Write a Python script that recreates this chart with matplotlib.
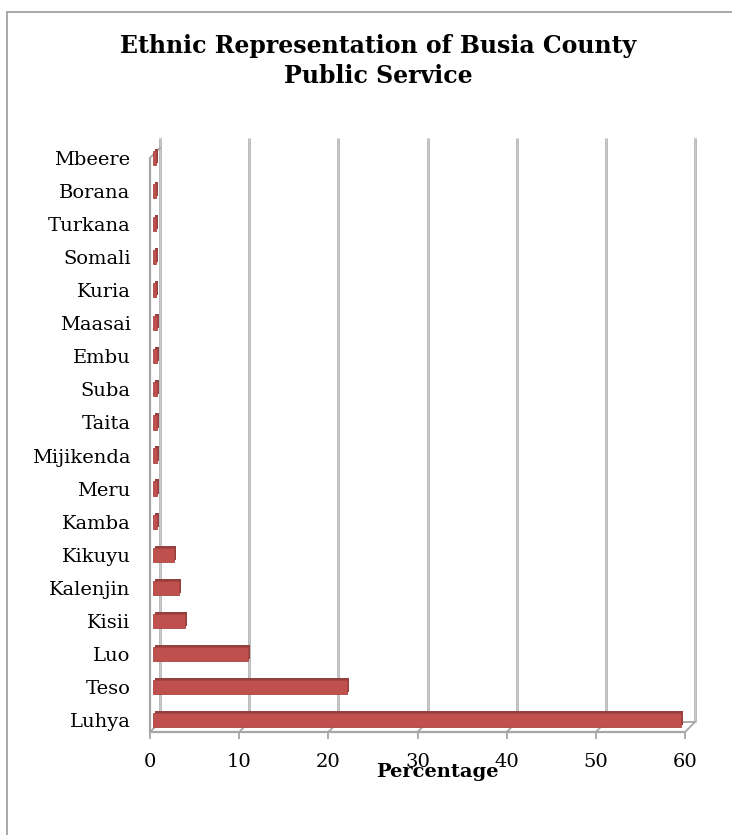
import matplotlib
matplotlib.use("Agg")
import matplotlib.pyplot as plt
from matplotlib.transforms import ScaledTranslation
from matplotlib.patches import Rectangle

categories = ["Luhya", "Teso", "Luo", "Kisii", "Kalenjin", "Kikuyu", "Kamba", "Meru",
              "Mijikenda", "Taita", "Suba", "Embu", "Maasai", "Kuria", "Somali",
              "Turkana", "Borana", "Mbeere"]
values = [59.2, 21.8, 10.6, 3.6, 2.9, 2.4, 0.5, 0.45, 0.45, 0.4, 0.4, 0.4, 0.4,
          0.35, 0.35, 0.35, 0.35, 0.35]
xticks = [0, 10, 20, 30, 40, 50, 60]
title = "Ethnic Representation of Busia County\nPublic Service"
xlabel = "Percentage"

W, H = 732, 835
fig = plt.figure(figsize=(W / 100, H / 100), dpi=100)
fig.patch.set_facecolor("white")

# outer chart frame
fig.patches.append(Rectangle((7 / W, -0.1), 1.2, 1.1 - 12 / H, transform=fig.transFigure,
                             fill=False, edgecolor="#9a9a9a", linewidth=1.2))

left, right = 150 / W, 685 / W
bottom, top = (H - 732) / H, (H - 138) / H
ax = fig.add_axes([left, bottom, right - left, top - bottom])
ax.set_xlim(0, 60)
ax.set_ylim(-0.36, 17.6)
for s in ax.spines.values():
    s.set_visible(False)

def off(dxp, dyp):
    return ax.transData + ScaledTranslation(dxp / 100, dyp / 100, fig.dpi_scale_trans)

grid_c = "#a6a6a6"
ypos = list(range(len(categories)))
floor = -0.36
ytop = 17.6
# back wall grid lines (offset for 3D look)
ax.vlines(xticks, floor, ytop - 0.3, transform=off(10, 10), colors=grid_c, lw=1.8,
          zorder=1, clip_on=False)
ax.vlines(xticks, floor, ytop - 0.3, transform=off(10, 10), colors="#d9d9d9", lw=0.5,
          zorder=1, clip_on=False)
# back floor line
ax.hlines([floor], 0, 60, transform=off(10, 10), colors=grid_c, lw=1.3, zorder=1, clip_on=False)
# front left wall and floor
ax.vlines([0], floor, ytop - 0.6, colors=grid_c, lw=1.6, zorder=1, clip_on=False)
ax.hlines([floor], 0, 60, colors=grid_c, lw=1.6, zorder=1, clip_on=False)

# diagonal floor connectors
fig.canvas.draw()
inv = ax.transData.inverted()
p0 = ax.transData.transform((0, floor))
dx, dy = inv.transform((p0[0] + 10, p0[1] + 10)) - (0, floor)
for t in xticks:
    ax.plot([t, t + dx], [floor, floor + dy], color=grid_c, lw=1.3, zorder=1, clip_on=False)
ax.plot([0, dx], [ytop - 0.6, ytop - 0.6 + dy], color=grid_c, lw=1.3, zorder=1, clip_on=False)

# bars: shadow/side then face
ax.barh(ypos, values, height=0.43, left=0, color="#94403e", transform=off(5, 2), zorder=3)
ax.barh(ypos, values, height=0.43, left=0, color="#c0504d", edgecolor="#a84442",
        linewidth=0.6, transform=off(3, 0), zorder=4)

ax.set_yticks(ypos)
ax.set_yticklabels(categories, fontsize=14, family="DejaVu Serif")
for lab in ax.get_yticklabels():
    lab.set_transform(lab.get_transform() + ScaledTranslation(0, 0.03, fig.dpi_scale_trans))
ax.tick_params(axis="y", length=0, pad=14)
ax.set_xticks(xticks)
ax.set_xticklabels([str(t) for t in xticks], fontsize=14, family="DejaVu Serif")
ax.tick_params(axis="x", length=5, color=grid_c, width=1.3, pad=10)
ax.set_xlabel(xlabel, fontsize=14, family="DejaVu Serif", fontweight="bold")
ax.xaxis.set_label_coords((437 - 150) / 535, -0.052)

fig.text(378 / W, 1 - 61 / H, title, ha="center", va="center", fontsize=17,
         family="DejaVu Serif", fontweight="bold", linespacing=1.3)

fig.savefig("out.png", dpi=100, facecolor="white")
